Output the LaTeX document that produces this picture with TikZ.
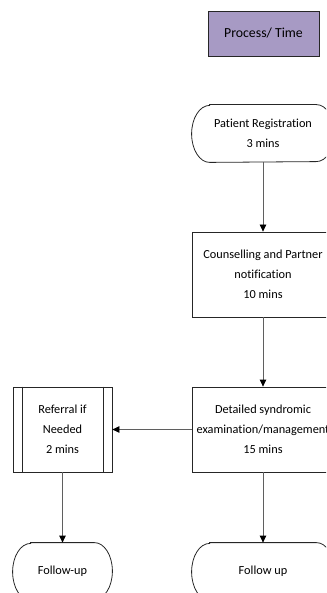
\documentclass[tikz,border=0pt]{standalone}
\usepackage{fontspec}
\setmainfont{Carlito}[Ligatures=NoCommon]
\usetikzlibrary{arrows.meta,positioning}
\definecolor{procFill}{RGB}{167,154,196}
\definecolor{lineGray}{RGB}{95,95,95}
\definecolor{edgeDark}{RGB}{38,38,38}
% outline of a terminator: elliptic ends, 18pt deep
\newcommand{\termOutline}[1]{%
  \draw[edgeDark, line width=0.8pt] ([xshift=18pt]#1.north west) -- ([xshift=-18pt]#1.north east)
    arc[start angle=90, end angle=-90, x radius=18pt, y radius=28.5pt]
    -- ([xshift=18pt]#1.south west)
    arc[start angle=270, end angle=90, x radius=18pt, y radius=28.5pt] -- cycle;}

\begin{document}
\begin{tikzpicture}[x=1pt, y=-1pt, >={Triangle[length=7pt,width=6.5pt,black]},
    box/.style={draw=edgeDark, line width=0.8pt, align=center, inner sep=0pt,
      font=\fontsize{12.3}{20}\selectfont},
    procbox/.style={box, minimum width=142pt, minimum height=85pt},
    termbox/.style={box, draw=none, minimum width=142pt, minimum height=57pt},
    flow/.style={->, lineGray, line width=0.8pt}]
    \useasboundingbox (0,0) rectangle (326,593);
    \clip (0,0) rectangle (326,593);
    % --- legend box ---
    \node[box, fill=procFill, minimum width=111pt, minimum height=45pt,
      font=\fontsize{13.8}{16}\selectfont] (legend) at (263.5,33.5) {Process/ Time};
    % --- main column ---
    \node[termbox] (reg) at (263,133.5) {Patient Registration\\3 mins};
    \termOutline{reg}
    \node[procbox] (couns) at (263,274.5) {Counselling and Partner\\notification\\10 mins};
    \node[procbox] (exam) at (263,429.5) {Detailed syndromic\\examination/management\\15 mins};
    \node[termbox] (fupR) at (263,571.5) {Follow up};
    \termOutline{fupR}
    % --- referral branch ---
    \node[procbox, minimum width=99pt] (refer) at (62.5,429.5) {Referral if\\Needed\\2 mins};
    \draw[edgeDark, line width=0.8pt] ([xshift=10pt]refer.north west) -- ([xshift=10pt]refer.south west);
    \draw[edgeDark, line width=0.8pt] ([xshift=-9pt]refer.north east) -- ([xshift=-9pt]refer.south east);
    \node[termbox, minimum width=99pt] (fupL) at (62.5,571.5) {Follow-up};
    \termOutline{fupL}
    % --- connectors ---
    \draw[flow] (reg) -- (couns);
    \draw[flow] (couns) -- (exam);
    \draw[flow] (exam) -- (refer);
    \draw[flow] (exam) -- (fupR);
    \draw[flow] (refer) -- (fupL);
\end{tikzpicture}
\end{document}
